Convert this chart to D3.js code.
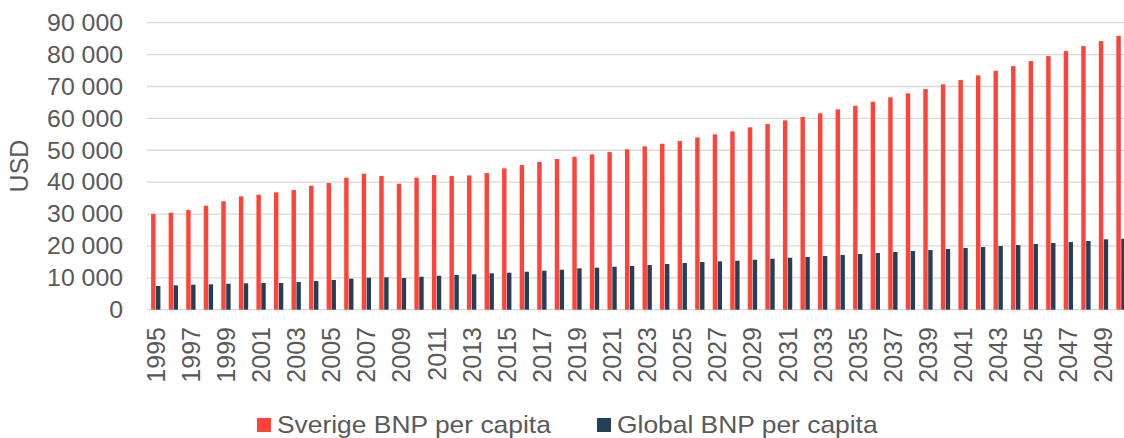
<!DOCTYPE html>
<html><head><meta charset="utf-8">
<script src="https://cdn.jsdelivr.net/npm/d3@7"></script>
<style>
html,body{margin:0;padding:0;background:#fff;overflow:hidden}
text{font-family:"Liberation Sans",Arial,sans-serif;fill:#595959}
</style></head>
<body><svg id="c" width="1124" height="438"></svg>
<script>
const years = d3.range(1995, 2051).map(String);
const seriesNames = ["Sverige BNP per capita", "Global BNP per capita"];
const sverige = [30000,30400,31250,32600,34000,35550,36050,36800,37520,38870,39720,41380,42640,
41910,39500,41380,42230,41910,42130,42850,44320,45360,46300,47240,47960,48710,49440,50280,51220,52040,52880,54040,54980,55920,
57180,58210,59370,60410,61570,62820,63950,65200,66580,67840,69190,70660,72010,73480,74920,76390,77960,79530,81100,82670,84230,85890];
const global = [7430,7650,7840,7960,8150,8270,8370,8370,8680,9000,9310,9720,10030,
10160,9940,10340,10660,10880,11100,11410,11600,11910,12230,12540,12980,13170,13480,13700,14010,14330,14640,14950,15170,15360,
15670,15990,16300,16520,16830,17150,17460,17770,18090,18400,18710,19030,19340,19650,19970,20280,20600,20910,21220,21540,22070,22260];
const yTicks = [0,10000,20000,30000,40000,50000,60000,70000,80000,90000];
const xTickLabels = years.filter((d,i)=>i%2===0);
const colors = ["#FF4339", "#243F57"];

const svg = d3.select("#c");
const x0 = d3.scaleBand().domain(years).range([147, 147 + 56*17.55]).paddingInner(0.47).paddingOuter(0.235);
const x1 = d3.scaleBand().domain(seriesNames).range([0, x0.bandwidth()]).paddingInner(0.1);
const y = d3.scaleLinear().domain([0, 90000]).range([309.7, 22.7]);
const fmt = v => d3.format(",")(v).replace(/,/g, " ");

// gridlines
svg.append("g").selectAll("line").data(yTicks).join("line")
  .attr("x1", 147).attr("x2", 1124)
  .attr("y1", d => y(d)).attr("y2", d => y(d))
  .attr("stroke", "#d9d9d9").attr("stroke-width", 1.3);

// y tick labels
svg.append("g").selectAll("g").data(yTicks).join("g")
  .attr("transform", d => `translate(123,${y(d)}) scale(1.08,1)`)
  .append("text").attr("text-anchor", "end").attr("dy", "0.36em")
  .style("font-size", "23px").text(d => fmt(d));

// y title
svg.append("text").attr("transform", "translate(28,166) rotate(-90)")
  .attr("text-anchor", "middle").style("font-size", "25px").text("USD");

// bars
const data = years.map((yr, i) => ({year: yr, vals: [sverige[i], global[i]]}));
const groups = svg.append("g").selectAll("g").data(data).join("g")
  .attr("transform", d => `translate(${x0(d.year)},0)`);
groups.selectAll("rect").data(d => d.vals.map((v, k) => ({name: seriesNames[k], v, k}))).join("rect")
  .attr("x", d => x1(d.name)).attr("width", x1.bandwidth())
  .attr("y", d => y(d.v)).attr("height", d => y(0) - y(d.v))
  .attr("fill", d => colors[d.k]);

// x tick labels
svg.append("g").selectAll("text").data(xTickLabels).join("text")
  .attr("transform", d => `translate(${x0(d) + x0.bandwidth()/2},327) rotate(-90)`)
  .attr("text-anchor", "end").attr("dy", "0.36em")
  .style("font-size", "25px").text(d => d);

// legend
const legendX = [257, 597];
const lg = svg.append("g").selectAll("g").data(seriesNames).join("g")
  .attr("transform", (d, i) => `translate(${legendX[i]},0)`);
lg.append("rect").attr("x", 0).attr("y", 418).attr("width", 14).attr("height", 14)
  .attr("fill", (d, i) => colors[i]);
lg.append("g").attr("transform", "translate(20,433) scale(1.1,1)")
  .append("text").style("font-size", "24px").text(d => d);
</script></body></html>
